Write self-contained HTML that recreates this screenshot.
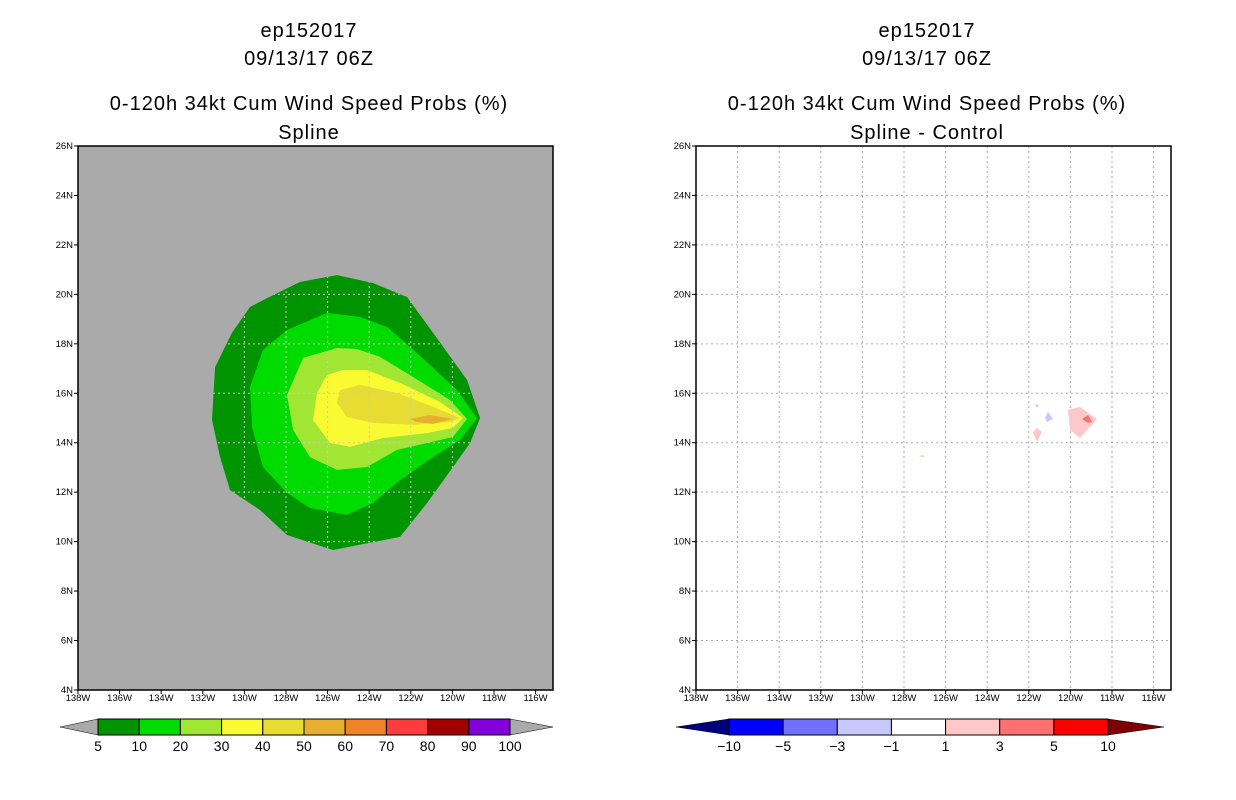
<!DOCTYPE html>
<html><head><meta charset="utf-8"><style>
html,body{margin:0;padding:0;background:#fff;}
svg{display:block;font-family:"Liberation Sans",sans-serif;}
.t{font-size:20px;letter-spacing:1px;text-anchor:middle;fill:#000;}
.tk{font-size:9.5px;fill:#000;}
.cb{font-size:14px;text-anchor:middle;fill:#000;}
</style></head><body>
<svg id="chart" width="1236" height="800" xmlns="http://www.w3.org/2000/svg"></svg>
<script>
const lonTicks=[-138,-136,-134,-132,-130,-128,-126,-124,-122,-120,-118,-116];
const latTicks=[4,6,8,10,12,14,16,18,20,22,24,26];
const leftLevels=["5","10","20","30","40","50","60","70","80","90","100"];
const leftColors=["#009400","#00dc00","#a0e632","#fafa32","#e6dc32","#e6af2d","#f08228","#fa3c3c","#a00000","#8200dc"];
const rightLevels=["-10","-5","-3","-1","1","3","5","10"];
const rightColors=["#0000ff","#7070ff","#c8c8ff","#ffffff","#ffc8c8","#ff7070","#ff0000"];
const c5=[[-125.55,20.78],[-127.33,20.5],[-128.91,19.85],[-129.73,19.49],[-130.6,18.44],[-131.41,17.06],[-131.56,14.92],[-131.17,13.42],[-130.69,12.09],[-129.25,11.28],[-127.95,10.27],[-125.74,9.66],[-122.52,10.19],[-121.22,11.56],[-119.97,13.02],[-119.15,13.99],[-118.67,15.0],[-119.3,16.54],[-120.93,18.44],[-122.18,19.89],[-123.82,20.46]];
const c10=[[-126.03,19.25],[-127.95,18.56],[-129.11,17.75],[-129.73,16.25],[-129.63,14.64],[-129.11,13.02],[-127.95,11.97],[-126.85,11.36],[-125.07,11.08],[-123.82,11.56],[-122.52,12.49],[-120.93,13.42],[-119.63,14.11],[-118.82,15.0],[-119.78,16.13],[-121.7,17.63],[-123.14,18.68],[-124.44,19.09]];
const c20=[[-125.55,17.83],[-127.18,17.43],[-127.95,15.93],[-127.66,14.52],[-126.85,13.42],[-125.55,12.9],[-124.11,13.02],[-122.66,13.71],[-121.22,13.99],[-119.97,14.23],[-119.3,14.96],[-120.12,15.73],[-121.89,16.66],[-123.48,17.47],[-124.59,17.79]];
const c30=[[-126.03,16.74],[-126.51,16.01],[-126.7,14.92],[-125.88,13.99],[-124.92,13.83],[-123.34,14.19],[-121.22,14.39],[-119.97,14.6],[-119.49,15.0],[-120.6,15.65],[-122.52,16.42],[-124.11,16.94],[-125.26,16.94]];
const c40=[[-125.4,16.13],[-125.55,15.61],[-125.07,15.04],[-123.82,14.8],[-121.89,14.72],[-120.12,14.84],[-119.63,15.0],[-120.93,15.45],[-122.66,16.01],[-124.44,16.34]];
const c50=[[-122.04,14.96],[-121.08,15.12],[-119.97,14.96],[-120.93,14.76],[-121.7,14.84]];
const dPink1=[[-120.12,15.33],[-119.54,15.45],[-118.72,14.96],[-119.54,14.19],[-120.02,14.52]];
const dRed1=[[-119.44,14.96],[-119.15,15.12],[-118.96,14.84],[-119.15,14.8]];
const dBlue1=[[-121.22,15.0],[-121.08,15.25],[-120.84,14.96],[-121.13,14.84]];
const dBlue2=[[-121.7,15.49],[-121.61,15.56],[-121.52,15.49],[-121.61,15.43]];
const dPink2=[[-121.8,14.43],[-121.61,14.6],[-121.37,14.43],[-121.61,14.03]];
const dPink3=[[-127.3,13.46],[-127.13,13.5],[-126.96,13.46],[-127.13,13.42]];

const NS="http://www.w3.org/2000/svg";
const svg=document.getElementById('chart');
function mk(tag,attrs,parent){const e=document.createElementNS(NS,tag);for(const k in attrs)e.setAttribute(k,attrs[k]);(parent||svg).appendChild(e);return e;}
const PW=475,PH=544,PY=146,LON0=-138,LAT0=4,LAT1=26,PXDEG=20.8;
function panel(x0,bg,name){
  const g=mk('g',{});
  
  
  const xs=l=>x0+(l-LON0)*PXDEG;
  const ys=l=>PY+(LAT1-l)*PH/(LAT1-LAT0);
  const r=mk('rect',{x:x0,y:PY,width:PW,height:PH,fill:bg},g);
  
  
  return {g,xs,ys,x0};
}
function pts(p,arr){return arr.map(d=>p.xs(d[0]).toFixed(1)+','+p.ys(d[1]).toFixed(1)).join(' ');}
function poly(p,arr,fill,name){
  const e=mk('polygon',{points:pts(p,arr),fill:fill},p.g);
  
  
}
function axes(p,gridColor,clip){
  const gg=mk('g',clip?{'clip-path':'url(#'+clip+')'}:{},p.g);
  
  
  lonTicks.forEach((l,i)=>{const x=p.xs(l);
    if(i>0){const gl=mk('line',{x1:x,x2:x,y1:PY,y2:PY+PH,stroke:gridColor,'stroke-dasharray':'2,3'},gg);
      }
    mk('line',{x1:x,x2:x,y1:PY+PH,y2:PY+PH+4,stroke:'#000'},p.g);
    const t=mk('text',{x:x,y:PY+PH+11,class:'tk','text-anchor':'middle'},p.g);t.textContent=(-l)+'W';
    
  });
  latTicks.forEach((l,i)=>{const y=p.ys(l);
    if(i>0&&i<latTicks.length-1){const gl=mk('line',{x1:p.x0,x2:p.x0+PW,y1:y,y2:y,stroke:gridColor,'stroke-dasharray':'2,3'},gg);
      }
    mk('line',{x1:p.x0-4,x2:p.x0,y1:y,y2:y,stroke:'#000'},p.g);
    const t=mk('text',{x:p.x0-5,y:y+3,class:'tk','text-anchor':'end'},p.g);t.textContent=l+'N';
    
  });
  const b=mk('rect',{x:p.x0,y:PY,width:PW,height:PH,fill:'none',stroke:'#000','stroke-width':1.5},p.g);
  
}
function titles(cx,lines){
  const ys=[37,65,110,139];
  lines.forEach((s,i)=>{const t=mk('text',{x:cx,y:ys[i],class:'t'});t.textContent=s;
    });
}
function colorbar(x0,x1,tl,tr,colors,labels,leftTri,rightTri,name){
  const g=mk('g',{});
  
  const y0=719,y1=735,ym=727,w=(x1-x0)/colors.length;
  const a=mk('polygon',{points:`${tl},${ym} ${x0},${y0} ${x0},${y1}`,fill:leftTri,stroke:'#000','stroke-width':0.5},g);
  
  const b=mk('polygon',{points:`${tr},${ym} ${x1},${y0} ${x1},${y1}`,fill:rightTri,stroke:'#000','stroke-width':0.5},g);
  
  colors.forEach((c,i)=>{const r=mk('rect',{x:x0+i*w,y:y0,width:w,height:y1-y0,fill:c,stroke:'#000','stroke-width':1},g);
    });
  labels.forEach((s,i)=>{const t=mk('text',{x:x0+i*w,y:751,class:'cb'},g);t.textContent=s.replace('-','\u2212');
    });
}
// left panel
const L=panel(78,'#aaaaaa','left-map-panel');
const defs=mk('defs',{});
const cp=mk('clipPath',{id:'blobclip'},defs);
mk('polygon',{points:pts(L,c5)},cp);
[c5,c10,c20,c30,c40,c50].forEach((c,i)=>poly(L,c,leftColors[i],'contour-'+leftLevels[i]+'pct'));
axes(L,'#c8c8c8','blobclip');
titles(309,['ep152017','09/13/17 06Z','0-120h 34kt Cum Wind Speed Probs (%)','Spline']);
colorbar(98,510,60,553,leftColors,leftLevels,'#aaaaaa','#aaaaaa','left-colorbar');
// right panel
const R=panel(696,'#ffffff','right-map-panel');
axes(R,'#aaaaaa',null);
poly(R,dPink1,'#ffc8c8','diff-positive-1');
poly(R,dRed1,'#ff7070','diff-positive-3');
poly(R,dBlue1,'#c8c8ff','diff-negative-1');
poly(R,dBlue2,'#c8c8ff','diff-negative-small');
poly(R,dPink2,'#ffc8c8','diff-positive-small');
poly(R,dPink3,'#ffc8c8','diff-positive-tiny');
titles(927,['ep152017','09/13/17 06Z','0-120h 34kt Cum Wind Speed Probs (%)','Spline - Control']);
colorbar(729,1108,676,1164,rightColors,rightLevels,'#00007f','#7f0000','right-colorbar');
</script>
</body></html>
